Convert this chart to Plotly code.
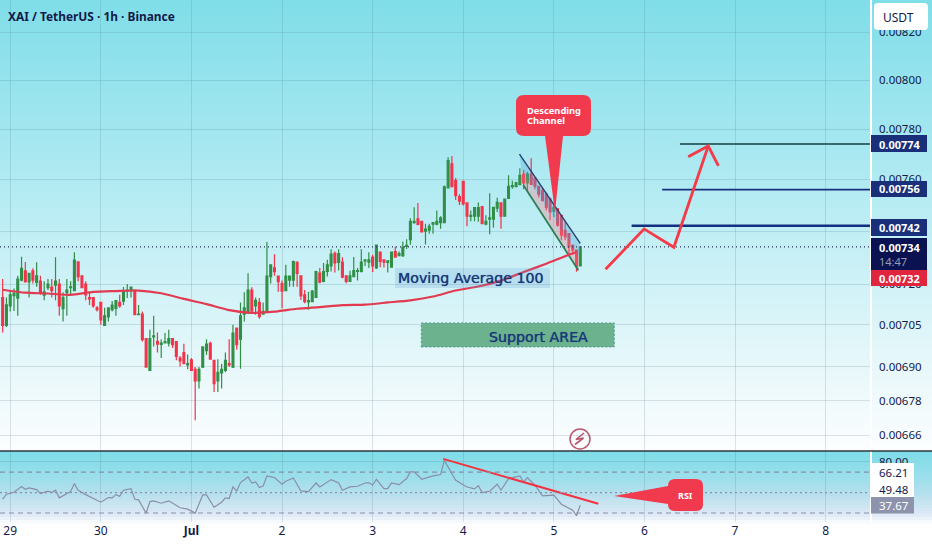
import numpy as np
import pandas as pd
import plotly.graph_objects as go

# prices are in units of 0.00001
TICK = 1e-5
START = pd.Timestamp("2024-06-28 22:00")

OPEN = [715.0,704.8,711.9,715.7,714.8,721.5,724.9,720.8,724.9,720.6,
721.1,715.9,718.7,718.9,719.6,720.0,710.9,716.8,718.7,717.6,
728.3,723.1,720.0,715.0,715.0,711.2,713.2,704.8,707.9,710.6,
711.0,713.2,713.7,717.4,717.6,717.8,708.7,708.9,700.0,688.6,
700.6,699.0,697.9,698.5,698.4,700.0,698.9,693.0,695.0,690.6,
692.4,689.0,684.9,689.8,695.7,698.3,692.2,684.9,687.7,688.6,
691.0,689.8,703.8,699.8,708.9,709.3,717.8,711.9,713.2,708.9,
709.6,722.8,726.1,723.0,720.2,717.6,721.5,721.5,728.2,723.1,
716.0,713.4,713.5,715.1,724.1,721.0,724.7,726.8,731.5,728.1,
728.2,723.1,721.0,722.8,724.7,724.7,728.7,728.2,730.1,726.0,
732.0,729.1,728.1,726.3,732.2,730.6,730.6,734.1,736.7,743.2,
744.7,743.7,739.9,740.3,742.6,742.6,743.2,743.2,756.7,766.1,
759.5,753.3,759.2,750.8,745.6,745.7,745.7,749.4,742.6,744.5,
744.5,748.8,750.8,745.7,752.6,757.1,757.1,758.0,762.1,758.6,
762.1,760.5,757.3,755.5,754.2,752.3,747.6,748.5,746.0,740.3,
739.0,734.6,732.7,726.8]
HIGH = [721.9,715.0,717.6,718.4,723.1,730.2,728.3,724.0,725.9,728.2,
723.1,721.1,721.9,721.9,730.0,721.9,717.0,721.9,721.1,731.9,
728.3,723.1,721.1,717.0,715.0,711.9,713.2,711.3,711.3,713.7,
714.1,716.0,718.9,720.0,718.9,718.0,712.3,709.9,700.0,703.2,
708.3,702.2,699.8,702.0,703.2,700.0,698.9,693.8,698.2,694.3,
693.0,689.8,689.8,697.2,699.8,698.9,692.2,692.6,691.0,695.0,
699.8,705.0,703.8,713.2,717.0,724.0,718.8,715.0,714.8,713.2,
735.8,727.2,731.2,723.0,721.3,727.2,723.0,728.8,728.2,723.1,
717.8,717.2,717.8,725.0,726.0,727.9,729.1,733.1,732.2,733.1,
730.0,723.1,725.0,730.1,726.0,733.1,729.1,731.9,731.0,734.6,
732.0,729.1,728.7,732.0,734.1,732.2,736.0,736.9,744.9,749.1,
750.8,743.7,742.8,742.8,743.2,747.9,745.7,757.6,768.7,769.2,
760.5,754.2,759.2,750.8,747.9,749.0,751.0,749.4,746.0,754.6,
749.1,752.8,750.8,752.3,761.6,759.5,759.1,764.4,763.7,763.0,
768.3,760.5,757.3,756.7,754.8,752.9,750.4,748.5,746.0,743.5,
739.0,734.6,733.0,734.0]
LOW = [702.2,704.2,709.9,710.1,708.3,721.1,720.8,715.0,720.2,719.0,
716.0,714.0,717.8,715.0,714.0,708.3,706.2,708.3,715.7,717.6,
721.1,718.7,714.0,712.3,711.3,709.9,705.0,704.8,706.2,709.9,
708.3,711.3,712.3,714.8,715.0,708.7,708.7,699.0,689.8,688.6,
697.2,695.0,693.0,698.4,697.2,696.6,692.2,690.0,691.0,689.0,
688.6,671.1,682.2,689.5,694.1,692.4,681.0,681.0,682.2,688.0,
689.8,689.5,696.0,689.2,706.2,709.3,709.0,708.7,707.2,708.7,
709.6,720.2,723.1,717.2,711.1,717.6,719.0,719.0,719.0,714.1,
712.9,710.5,713.5,715.1,720.3,720.7,722.8,724.7,724.3,725.1,
722.2,720.3,721.0,722.8,721.3,724.3,726.8,726.0,724.5,725.6,
726.3,726.2,724.3,726.3,730.1,730.4,730.1,733.2,734.8,742.8,
742.2,739.7,734.9,739.0,739.0,742.2,740.9,743.2,756.7,757.1,
751.9,750.0,749.8,741.8,743.7,743.7,743.5,742.6,742.2,738.8,
741.2,747.3,740.9,745.7,752.3,756.3,757.1,757.6,756.1,755.5,
758.0,756.1,752.9,751.7,747.9,744.1,745.4,741.6,736.5,736.5,
730.9,730.9,724.6,726.8]
CLOSE = [704.8,712.3,716.0,716.6,721.9,725.9,720.8,724.0,721.5,723.1,
716.6,717.1,720.0,717.6,721.1,711.9,715.0,717.8,719.0,729.0,
722.8,718.7,716.0,714.5,711.9,710.6,706.8,708.3,711.2,712.2,
713.9,711.9,717.3,717.8,718.9,708.7,708.9,699.6,689.8,700.0,
701.0,698.0,698.4,698.9,700.0,697.8,693.6,692.0,691.0,691.0,
688.6,684.9,689.0,697.0,698.0,692.6,683.9,687.9,689.0,692.2,
690.6,702.0,697.8,708.3,711.2,717.8,710.1,714.0,708.0,709.9,
723.0,727.2,724.6,720.9,717.4,723.0,723.0,728.4,724.0,715.6,
713.5,713.9,717.4,724.7,720.7,724.7,727.2,731.2,727.9,731.4,
722.6,721.0,723.1,725.0,725.0,728.2,729.1,729.1,726.8,734.6,
728.5,728.2,728.7,732.0,730.1,731.4,733.9,734.5,743.7,743.7,
742.5,739.7,740.7,741.8,743.2,743.7,745.0,757.1,767.4,757.1,
753.6,751.5,750.4,745.7,746.0,749.0,749.0,742.8,743.7,745.0,
749.1,751.0,745.7,752.3,757.3,757.6,758.6,761.6,758.6,762.1,
758.0,757.3,754.2,751.7,749.1,747.3,749.1,742.2,738.4,737.8,
734.0,732.7,726.5,734.0]

# moving average 100, read every 6 candles
MA_HOURS = [0,6,12,18,24,30,36,42,48,54,60,66,72,78,84,90,96,102,108,114,120,126,132,138,144,150,152]
MA_VALUES = [717.9,716.8,716.5,716.0,717.1,717.4,717.6,716.6,714.5,712.6,710.4,709.4,709.8,710.9,
             711.5,712.2,712.4,713.2,714.0,715.4,717.6,719.1,721.3,724.5,727.6,731.0,732.0]

RSI_HOURS = [0,1,3,5,6,7,9,10,12,13,14,15,18,19,20,22,26,28,29,30,31,32,34,35,36,38,39,40,42,44,47,49,51,53,54,
             56,58,59,60,61,62,63,65,66,67,68,69,70,72,74,75,77,79,81,83,84,87,89,90,92,94,96,97,98,99,101,102,
             103,105,107,108,109,111,114,116,117,119,120,123,125,126,127,129,131,132,134,137,138,139,141,143,
             146,148,151,152,153]
RSI_VALUES = [43.5,48.4,50.3,55.9,53.3,54.6,52.9,49.0,51.3,50.0,52.3,44.8,51.0,58.8,52.3,48.0,40.6,45.1,44.8,48.0,
              46.4,52.3,53.9,43.5,42.9,29.9,41.2,41.9,39.6,41.9,35.1,33.8,29.9,47.7,47.7,35.7,40.6,44.8,44.2,55.5,
              51.6,59.8,65.3,59.4,60.4,54.9,56.5,66.3,64.6,58.1,61.1,64.3,51.6,51.0,59.4,55.5,62.7,59.4,52.3,55.5,
              56.2,59.4,59.8,57.2,63.0,53.9,53.9,59.4,57.8,63.7,70.2,70.2,63.0,66.3,67.6,81.5,68.5,62.0,55.5,53.6,
              56.8,50.0,51.3,58.1,52.3,63.7,66.3,60.4,64.6,57.2,46.8,47.4,38.6,32.7,27.3,37.7]

PRICE_TICKS = [820, 800, 780, 760, 740, 720, 705, 690, 678, 666]
DAY_HOURS = [2, 26, 50, 74, 98, 122, 146, 170, 194, 218]
DAY_LABELS = ["29", "30", "<b>Jul</b>", "2", "3", "4", "5", "6", "7", "8"]

# drawings on the chart, hours from START and prices
LEVELS = [(774, 179.4, "#123f45", 1.6), (756, 174.7, "#16307f", 1.6), (742, 166.6, "#122f80", 2.4)]
PATH_HOURS = [159.7, 169.9, 177.8, 186.9]
PATH_PRICES = [725.5, 740.8, 733.8, 773.2]
HEAD_HOURS = [181.6, 186.9, 189.6]
HEAD_PRICES = [768.9, 773.2, 765.3]
CH_TOP = [(136.9, 770.0), (153.0, 735.3)]
CH_MID = [(137.4, 763.9), (152.7, 730.3)]
CH_LOW = [(137.9, 757.8), (152.5, 725.2)]
SUPPORT_HOURS = [110.9, 162.0]
SUPPORT_PRICES = [697.0, 705.7]
RSI_TREND_HOURS = [116.7, 157.8]
RSI_TREND_VALUES = [83.0, 39.0]

W, H = 870, 522   # plot area in the 932x550 page
PANE = 451
HEAVY = "0 0 0.7px #1a3a7a"


def hour(h):
    return START + pd.to_timedelta(h, unit="h")


def px(x, y):
    return f"{x / W:.5f},{(H - y) / H:.5f}"


def label(x, y, text, size=12, color="#131a4a", anchor="left", family="Noto Sans", shadow=None):
    font = dict(size=size, color=color, family=family)
    if shadow:
        font["shadow"] = shadow
    return dict(x=x / W, y=(H - y) / H, xref="paper", yref="paper", text=text, showarrow=False,
                xanchor=anchor, yanchor="middle", align="left", borderpad=0, borderwidth=0, font=font)


def box(x0, y0, x1, y1, fill, layer="above"):
    return dict(type="rect", xref="paper", yref="paper", x0=x0 / W, x1=x1 / W, y0=(H - y0) / H, y1=(H - y1) / H,
                fillcolor=fill, line_width=0, layer=layer)


def callout(x0, y0, x1, y1, r, pointer):
    side, pts = pointer
    p = f"M{px(x0 + r, y0)} L{px(x1 - r, y0)} Q{px(x1, y0)} {px(x1, y0 + r)} L{px(x1, y1 - r)} Q{px(x1, y1)} {px(x1 - r, y1)} "
    if side == "bottom":
        p += " ".join("L" + px(*q) for q in pts) + " "
    p += f"L{px(x0 + r, y1)} Q{px(x0, y1)} {px(x0, y1 - r)} "
    if side == "left":
        p += " ".join("L" + px(*q) for q in pts) + " "
    p += f"L{px(x0, y0 + r)} Q{px(x0, y0)} {px(x0 + r, y0)} Z"
    return dict(type="path", xref="paper", yref="paper", path=p, fillcolor="#f23a4f", line_width=0, layer="above")


def gradient(y0, y1, stops, step=3):
    ys = [s[0] for s in stops]
    out = []
    for y in range(y0, y1, step):
        c = [np.interp(y, ys, [s[1][k] for s in stops]) for k in range(3)]
        col = "rgb(%d,%d,%d)" % tuple(c)
        out.append(dict(type="rect", xref="paper", yref="paper", x0=0, x1=932 / W, y0=(H - y) / H,
                        y1=(H - y - step - 0.5) / H, fillcolor=col, line_width=0, layer="below"))
    return out


times = [hour(i) for i in range(len(OPEN))]
scale = lambda vals: [v * TICK for v in vals]
x_end = hour(229.75)
x_start = hour(-0.707)

fig = go.Figure()

fig.add_trace(go.Candlestick(x=times, open=scale(OPEN), high=scale(HIGH), low=scale(LOW), close=scale(CLOSE),
                             increasing=dict(line=dict(color="#2f8f46", width=1.2), fillcolor="#2f8f46"),
                             decreasing=dict(line=dict(color="#f2334a", width=1.2), fillcolor="#f2334a"),
                             whiskerwidth=0, xaxis="x", yaxis="y", showlegend=False, hoverinfo="skip"))

# channel halves
top_h = [hour(p[0]) for p in CH_TOP]
mid_h = [hour(p[0]) for p in CH_MID]
low_h = [hour(p[0]) for p in CH_LOW]
top_v = [p[1] * TICK for p in CH_TOP]
mid_v = [p[1] * TICK for p in CH_MID]
low_v = [p[1] * TICK for p in CH_LOW]
fig.add_trace(go.Scatter(x=top_h + mid_h[::-1], y=top_v + mid_v[::-1], fill="toself", mode="none",
                         fillcolor="rgba(80,170,215,0.35)"))
fig.add_trace(go.Scatter(x=mid_h + low_h[::-1], y=mid_v + low_v[::-1], fill="toself", mode="none",
                         fillcolor="rgba(240,130,140,0.35)"))
fig.add_trace(go.Scatter(x=top_h, y=top_v, mode="lines", line=dict(color="#27406f", width=1.4)))
fig.add_trace(go.Scatter(x=low_h, y=low_v, mode="lines", line=dict(color="#2f7f55", width=1.8)))

# support area
sx = [hour(SUPPORT_HOURS[k]) for k in (0, 1, 1, 0, 0)]
sy = [SUPPORT_PRICES[k] * TICK for k in (0, 0, 1, 1, 0)]
fig.add_trace(go.Scatter(x=sx, y=sy, mode="lines", fill="toself", fillcolor="#6db28e",
                         line=dict(color="#4f9a90", width=1, dash="2px,2px")))

fig.add_trace(go.Scatter(x=[hour(h) for h in MA_HOURS], y=scale(MA_VALUES), mode="lines",
                         line=dict(color="#e23a50", width=2.2, shape="spline", smoothing=0.6)))

# last price
fig.add_trace(go.Scatter(x=[x_start, x_end], y=[734 * TICK, 734 * TICK], mode="lines",
                         line=dict(color="#2a3358", width=1.2, dash="1px,3px")))

for price, h0, col, w in LEVELS:
    fig.add_trace(go.Scatter(x=[hour(h0), x_end], y=[price * TICK, price * TICK], mode="lines",
                             line=dict(color=col, width=w)))

fig.add_trace(go.Scatter(x=[hour(h) for h in PATH_HOURS], y=scale(PATH_PRICES), mode="lines",
                         line=dict(color="#f53a49", width=2.8)))
fig.add_trace(go.Scatter(x=[hour(h) for h in HEAD_HOURS], y=scale(HEAD_PRICES), mode="lines",
                         line=dict(color="#f53a49", width=2.8)))

# RSI pane
fig.add_trace(go.Scatter(x=[hour(h) for h in RSI_HOURS], y=RSI_VALUES, mode="lines", xaxis="x", yaxis="y2",
                         line=dict(color="#8a8fa8", width=1.2)))
fig.add_trace(go.Scatter(x=[hour(h) for h in RSI_TREND_HOURS], y=RSI_TREND_VALUES, mode="lines", xaxis="x",
                         yaxis="y2", line=dict(color="#f5323f", width=2)))
for level, dash in [(70, "5px,4px"), (50, "2px,3px"), (30, "5px,4px")]:
    fig.add_trace(go.Scatter(x=[x_start, x_end], y=[level, level], mode="lines", xaxis="x", yaxis="y2",
                             line=dict(color="#8c90a8", width=1.2, dash=dash)))

shapes = []
shapes += gradient(0, PANE, [(0, (128, 222, 233)), (130, (163, 231, 240)), (250, (198, 240, 246)),
                             (350, (228, 247, 250)), (451, (253, 254, 255))])
shapes += gradient(PANE, 522, [(451, (126, 221, 232)), (472, (150, 223, 235)), (492, (182, 224, 238)),
                               (513, (222, 233, 246)), (522, (255, 255, 255))])
# pane separator
shapes.append(dict(type="line", xref="paper", yref="paper", x0=0, x1=932 / W, y0=(H - PANE) / H, y1=(H - PANE) / H,
                   line=dict(color="#30343f", width=1.3), layer="above"))
# callouts
shapes.append(callout(516, 95, 591, 136, 8, ("bottom", [(563, 136), (555, 212), (545, 136)])))
shapes.append(callout(668, 479, 703, 511, 7, ("left", [(668, 504), (614, 496), (668, 486)])))
# lightning badge
shapes.append(dict(type="circle", xref="paper", yref="paper", x0=570 / W, x1=590 / W, y0=(H - 449) / H, y1=(H - 429) / H,
                   line=dict(color="#b9566b", width=1.5), fillcolor="rgba(0,0,0,0)", layer="above"))
shapes.append(dict(type="path", xref="paper", yref="paper", layer="above",
                   path=f"M{px(584, 433)} L{px(576, 439.5)} L{px(583.5, 438)} L{px(575, 444.5)}",
                   line=dict(color="#b9566b", width=1.6)))
# moving average caption box
shapes.append(box(395, 268, 550, 288, "rgba(95,150,210,0.2)"))
# price tags
shapes.append(box(871, 135, 927, 152, "#1a2f7a"))
shapes.append(box(871, 181, 927, 197, "#1a2f7a"))
shapes.append(box(871, 219, 927, 236, "#1a2f7a"))
shapes.append(box(871, 238, 927, 270, "#0a1252"))
shapes.append(box(871, 270, 927, 286, "#e0253f"))
shapes.append(box(871, 463, 914, 497, "#ffffff"))
shapes.append(box(871, 497, 914, 513.5, "#8e93ad"))
# USDT button
shapes.append(dict(type="path", xref="paper", yref="paper", layer="above", fillcolor="#ffffff", line_width=0,
                   path=f"M{px(878, 3)} L{px(924, 3)} Q{px(928, 3)} {px(928, 7)} L{px(928, 26)} Q{px(928, 30)} {px(924, 30)} "
                        f"L{px(878, 30)} Q{px(874, 30)} {px(874, 26)} L{px(874, 7)} Q{px(874, 3)} {px(878, 3)} Z"))

annotations = [
    label(8, 16, "<b>XAI / TetherUS · 1h · Binance</b>", 11.9),
    label(883, 17, "USDT", 12),
    label(527, 110, "<b>Descending</b>", 9.3, "#ffffff"),
    label(527, 120, "<b>Channel</b>", 9.3, "#ffffff"),
    label(685.5, 495, "<b>RSI</b>", 9, "#ffffff", "center"),
    label(398, 278, "Moving Average 100", 14.2, "#1a3a7a", family="DejaVu Sans", shadow=HEAVY),
    label(489, 337, "Support AREA", 14.2, "#1a3a7a", family="DejaVu Sans", shadow=HEAVY),
    label(879, 144, "<b>0.00774</b>", 11, "#ffffff"),
    label(879, 189, "<b>0.00756</b>", 11, "#ffffff"),
    label(879, 227.5, "<b>0.00742</b>", 11, "#ffffff"),
    label(879, 247, "<b>0.00734</b>", 11, "#ffffff"),
    label(879, 261, "14:47", 11, "#9a9db0"),
    label(879, 278, "<b>0.00732</b>", 11, "#ffffff"),
    label(879, 472, "66.21", 11.5),
    label(879, 489, "49.48", 11.5),
    label(879, 505.5, "37.67", 11.5, "#ffffff"),
]

grid = "rgba(80,120,140,0.2)"
log_hi = np.log10(800 * TICK * np.exp(80 / 1937))
log_lo = np.log10(800 * TICK * np.exp(-371 / 1937))
split = (H - PANE) / H
# 0.00740 sits fully under the 0.00742 tag, so only its grid line shows
price_text = ["" if p == 740 else "%.5f" % (p * TICK) for p in PRICE_TICKS]

fig.update_layout(
    width=932, height=550, margin=dict(l=0, r=62, t=0, b=28), showlegend=False, hovermode=False,
    paper_bgcolor="#ffffff", plot_bgcolor="rgba(0,0,0,0)",
    font=dict(family="Noto Sans", size=11.5, color="#131a4a"),
    shapes=shapes, annotations=annotations,
    xaxis=dict(domain=[0, 1], anchor="y2", range=[x_start, x_end], rangeslider=dict(visible=False),
               tickmode="array", tickvals=[hour(h) for h in DAY_HOURS], ticktext=DAY_LABELS,
               showgrid=True, gridcolor=grid, gridwidth=1, zeroline=False, ticks="", tickfont=dict(size=12)),
    yaxis=dict(domain=[split, 1], anchor="x", side="right", type="log", range=[log_lo, log_hi],
               tickmode="array", tickvals=[p * TICK for p in PRICE_TICKS], ticktext=price_text,
               showgrid=True, gridcolor=grid, ticks="outside", ticklen=5, tickcolor="rgba(0,0,0,0)",
               showline=True, linecolor="#ffffff", linewidth=1.5),
    yaxis2=dict(domain=[0, split], anchor="x", side="right", range=[21.2, 90.7],
                tickmode="array", tickvals=[80], ticktext=["80.00"],
                showgrid=True, gridcolor=grid, ticks="outside", ticklen=5, tickcolor="rgba(0,0,0,0)", zeroline=False,
                showline=True, linecolor="#ffffff", linewidth=1.5),
)

fig.write_html("out.html", config={"displayModeBar": False}, post_script="document.body.style.margin='0';")
